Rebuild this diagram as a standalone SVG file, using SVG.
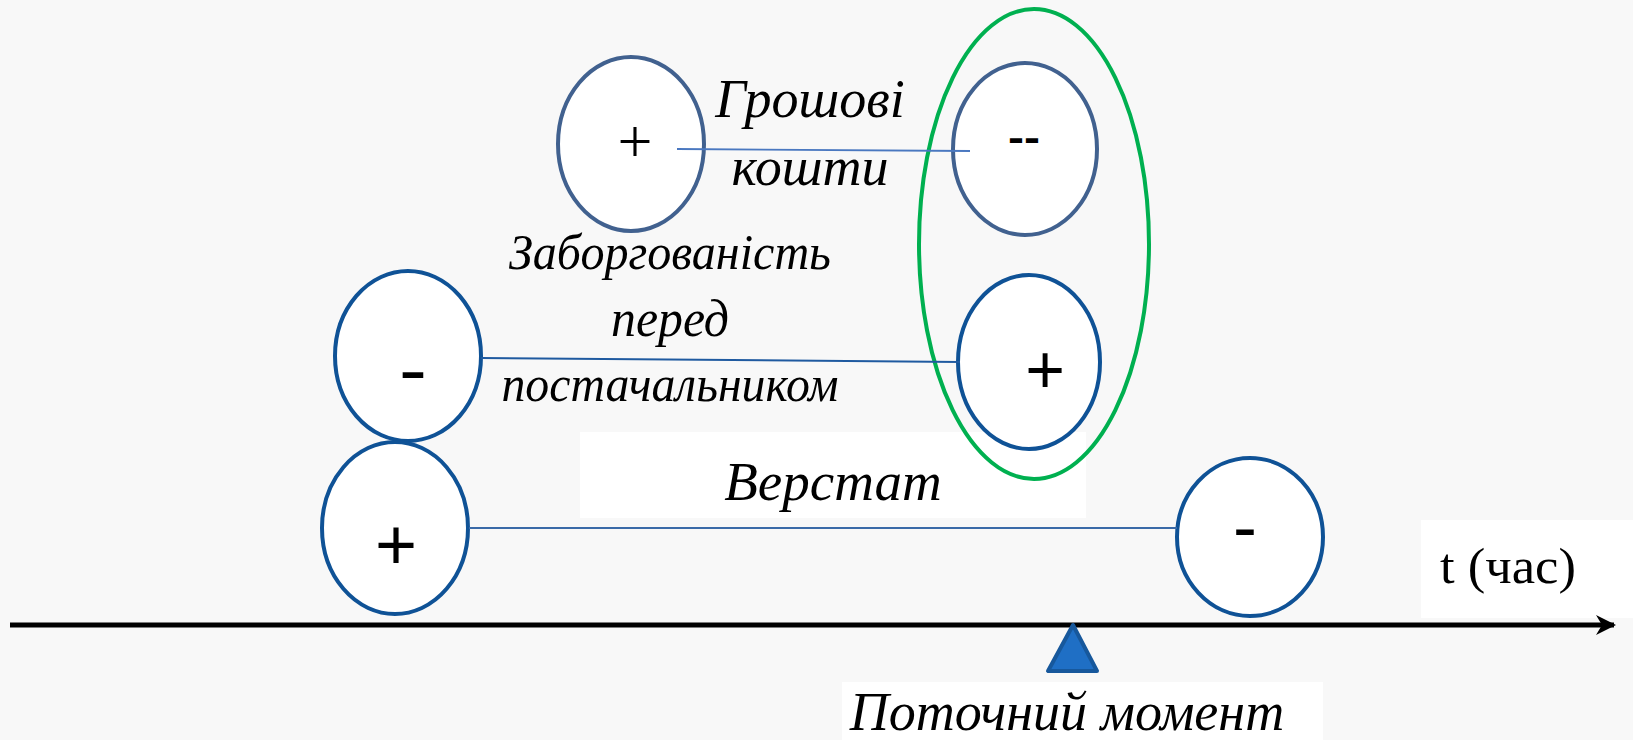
<svg xmlns="http://www.w3.org/2000/svg" width="1633" height="740" viewBox="0 0 1633 740">
<style>
.bg{fill:#f8f8f8}
.wb{fill:#ffffff}
.eTop{fill:#ffffff;stroke:#41618f;stroke-width:4}
.eLow{fill:#ffffff;stroke:#0f5296;stroke-width:4}
.lbl{font-family:"Liberation Serif",serif;font-style:italic;fill:#000;text-anchor:middle}
.sign{font-family:"Liberation Sans",sans-serif;fill:#000;text-anchor:middle}
.dash{font-family:"Liberation Sans",sans-serif;font-weight:bold;fill:#000;text-anchor:middle}
</style>
<defs>
<marker id="ah" viewBox="0 0 10 10" refX="9" refY="5" markerWidth="6" markerHeight="4" orient="auto" markerUnits="strokeWidth">
<path d="M0,0 L10,5 L0,10 L3,5 z" fill="#000"/>
</marker>
</defs>
<rect class="bg" x="0" y="0" width="1633" height="740"/>
<rect class="wb" x="580" y="432" width="506" height="86"/>
<rect class="wb" x="1421" y="520" width="212" height="98"/>
<rect class="wb" x="842" y="682" width="481" height="58"/>

<g id="group-green">
<ellipse cx="1034" cy="244" rx="115" ry="235" fill="none" stroke="#00b050" stroke-width="4"/>
</g>

<g id="node-money-plus">
<ellipse class="eTop" cx="631" cy="144" rx="73" ry="87"/>
<rect class="wb" x="597" y="104" width="80" height="94"/>
<text x="635" y="162" font-family="Liberation Serif,serif" font-size="62" text-anchor="middle">+</text>
</g>
<g id="node-money-minus">
<ellipse class="eTop" cx="1025" cy="149" rx="72" ry="86"/>
<text class="dash" x="1024" y="151" font-size="40" textLength="32" lengthAdjust="spacingAndGlyphs">--</text>
</g>
<g id="node-debt-minus">
<ellipse class="eLow" cx="408" cy="356" rx="73" ry="85"/>
<rect class="wb" x="373" y="322" width="81" height="85"/>
<text class="dash" x="413" y="388" font-size="48" textLength="27" lengthAdjust="spacingAndGlyphs">-</text>
</g>
<g id="node-debt-plus">
<ellipse class="eLow" cx="1029" cy="362" rx="71" ry="87"/>
<text class="sign" x="1045" y="393" font-size="68">+</text>
</g>
<g id="node-machine-plus">
<ellipse class="eLow" cx="395" cy="528" rx="73" ry="86"/>
<rect class="wb" x="355" y="490" width="81" height="87"/>
<text class="sign" x="396" y="569" font-size="72">+</text>
</g>
<g id="node-machine-minus">
<ellipse class="eLow" cx="1250" cy="537" rx="73" ry="79"/>
<text class="dash" x="1245" y="544" font-size="46" textLength="23" lengthAdjust="spacingAndGlyphs">-</text>
</g>

<g id="connectors">
<line x1="677" y1="149" x2="970" y2="151" stroke="#4a78c0" stroke-width="1.8"/>
<line x1="481" y1="358" x2="960" y2="362" stroke="#1f5aa0" stroke-width="2"/>
<line x1="469" y1="528" x2="1177" y2="528" stroke="#3a6aa8" stroke-width="2"/>
<line x1="10" y1="625" x2="1614" y2="625" stroke="#000" stroke-width="5" marker-end="url(#ah)"/>
</g>

<g id="labels">
<text class="lbl" x="810" y="117" font-size="54">Грошові</text>
<text class="lbl" x="810" y="185" font-size="54">кошти</text>
<text class="lbl" x="670" y="269" font-size="50" textLength="322" lengthAdjust="spacingAndGlyphs">Заборгованість</text>
<text class="lbl" x="670" y="336" font-size="52" textLength="118" lengthAdjust="spacingAndGlyphs">перед</text>
<text class="lbl" x="670" y="401" font-size="50" textLength="337" lengthAdjust="spacingAndGlyphs">постачальником</text>
<text class="lbl" x="833" y="500" font-size="55">Верстат</text>
<text x="1440" y="583" font-family="Liberation Serif,serif" font-size="50" textLength="136" lengthAdjust="spacingAndGlyphs">t (час)</text>
<text class="lbl" x="1067" y="730" font-size="54">Поточний момент</text>
</g>

<g id="node-current">
<polygon points="1073,625 1048,671 1097,671" fill="#1f6fc5" stroke="#17589c" stroke-width="4" stroke-linejoin="round"/>
</g>
</svg>
